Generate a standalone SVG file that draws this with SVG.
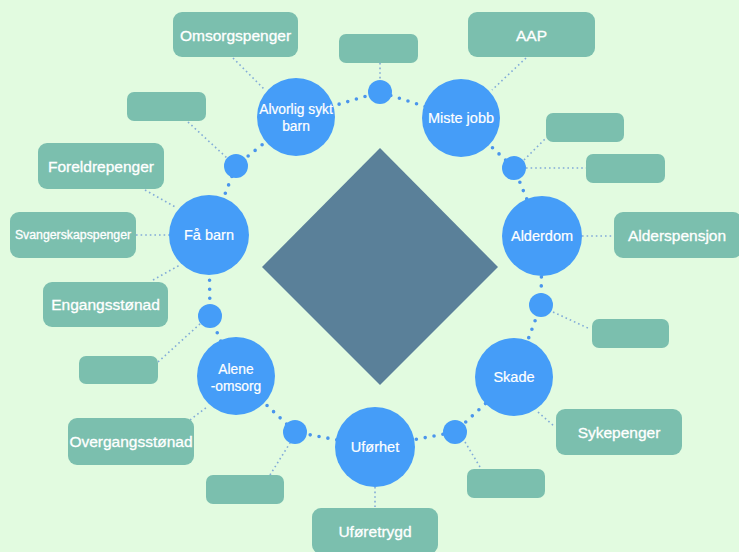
<svg xmlns="http://www.w3.org/2000/svg" width="739" height="552" viewBox="0 0 739 552">
<style>
.bg{fill:#E2FBE0}
.big{fill:#459DF8}
.small{fill:#459DF8}
.box{fill:#7BBFAE}
.ring{stroke:#4A95EC;stroke-width:3.6;stroke-linecap:round;stroke-dasharray:0 9;fill:none}
.link{stroke:#82ABD8;stroke-width:1.6;stroke-dasharray:1.6 3;fill:none}
.lbl{fill:#FFFFFF;stroke:#FFFFFF;stroke-width:0.3;font-family:"Liberation Sans",Arial,sans-serif;font-size:15.5px;text-anchor:middle;dominant-baseline:central}
.clbl{fill:#FFFFFF;stroke:#FFFFFF;stroke-width:0.2;font-family:"Liberation Sans",Arial,sans-serif;font-size:14.5px;text-anchor:middle;dominant-baseline:central}
.clbl2{font-size:13.8px}
</style>
<rect class="bg" x="0" y="0" width="739" height="552"/>
<g id="center">
<polygon points="380,148 498,267 380,385 262,267" fill="#5A8099"/>
</g>
<g id="connectors">
<polyline class="ring" points="296,117 380,92 461,118 514,168 542,236 541,305 514,377 455,432 375,447 295,432 236,376 210,316 209,235 236,166 296,117"/>
<line class="link" x1="233" y1="58" x2="265" y2="90"/>
<line class="link" x1="380" y1="63" x2="380" y2="82"/>
<line class="link" x1="188" y1="122" x2="227" y2="158"/>
<line class="link" x1="526" y1="58" x2="492" y2="90"/>
<line class="link" x1="524" y1="160" x2="547" y2="137"/>
<line class="link" x1="526" y1="168" x2="586" y2="168"/>
<line class="link" x1="582" y1="236" x2="614" y2="236"/>
<line class="link" x1="145" y1="190" x2="177" y2="208"/>
<line class="link" x1="136" y1="235" x2="169" y2="235"/>
<line class="link" x1="153" y1="280" x2="180" y2="265"/>
<line class="link" x1="158" y1="362" x2="201" y2="323"/>
<line class="link" x1="190" y1="420" x2="207" y2="407"/>
<line class="link" x1="270" y1="475" x2="290" y2="443"/>
<line class="link" x1="375" y1="487" x2="375" y2="508"/>
<line class="link" x1="465" y1="442" x2="480" y2="467"/>
<line class="link" x1="538" y1="412" x2="555" y2="427"/>
<line class="link" x1="553" y1="312" x2="590" y2="329"/>
</g>
<g id="n-alvorlig"><circle class="big" cx="296" cy="117" r="39"/><text class="clbl clbl2" x="296" y="109">Alvorlig sykt</text><text class="clbl clbl2" x="296" y="126">barn</text></g>
<g id="n-miste"><circle class="big" cx="461" cy="118" r="39"/><text class="clbl" x="461" y="118">Miste jobb</text></g>
<g id="n-alderdom"><circle class="big" cx="542" cy="236" r="40"/><text class="clbl" x="542" y="236">Alderdom</text></g>
<g id="n-skade"><circle class="big" cx="514" cy="377" r="39"/><text class="clbl" x="514" y="377">Skade</text></g>
<g id="n-uforhet"><circle class="big" cx="375" cy="447" r="40"/><text class="clbl" x="375" y="447">Uførhet</text></g>
<g id="n-alene"><circle class="big" cx="236" cy="376" r="39"/><text class="clbl clbl2" x="236" y="369">Alene</text><text class="clbl clbl2" x="236" y="386">-omsorg</text></g>
<g id="n-fabarn"><circle class="big" cx="209" cy="235" r="40"/><text class="clbl" x="209" y="235">Få barn</text></g>
<g id="s1"><circle class="small" cx="380" cy="92" r="12"/></g>
<g id="s2"><circle class="small" cx="514" cy="168" r="12"/></g>
<g id="s3"><circle class="small" cx="541" cy="305" r="12"/></g>
<g id="s4"><circle class="small" cx="455" cy="432" r="12"/></g>
<g id="s5"><circle class="small" cx="295" cy="432" r="12"/></g>
<g id="s6"><circle class="small" cx="210" cy="316" r="12"/></g>
<g id="s7"><circle class="small" cx="236" cy="166" r="12"/></g>
<g id="b-omsorgspenger"><rect class="box" x="173" y="12" width="125" height="45" rx="9"/><text class="lbl" x="235.5" y="35">Omsorgspenger</text></g>
<g id="b-top"><rect class="box" x="339" y="34" width="79" height="29" rx="7"/></g>
<g id="b-leftup"><rect class="box" x="127" y="92" width="79" height="29" rx="7"/></g>
<g id="b-aap"><rect class="box" x="468" y="12" width="127" height="45" rx="9"/><text class="lbl" x="531.5" y="35">AAP</text></g>
<g id="b-right1"><rect class="box" x="546" y="113" width="78" height="29" rx="7"/></g>
<g id="b-right2"><rect class="box" x="586" y="154" width="79" height="29" rx="7"/></g>
<g id="b-alderspensjon"><rect class="box" x="614" y="212" width="128" height="46" rx="9"/><text class="lbl" x="677" y="235">Alderspensjon</text></g>
<g id="b-foreldrepenger"><rect class="box" x="38" y="143" width="126" height="46" rx="9"/><text class="lbl" x="101" y="166">Foreldrepenger</text></g>
<g id="b-svangerskapspenger"><rect class="box" x="10" y="212" width="126" height="46" rx="9"/><text class="lbl" x="73" y="235" style="font-size:12.3px">Svangerskapspenger</text></g>
<g id="b-engangsstonad"><rect class="box" x="43" y="282" width="125" height="45" rx="9"/><text class="lbl" x="105.5" y="304.5">Engangsstønad</text></g>
<g id="b-leftlow"><rect class="box" x="79" y="356" width="79" height="28" rx="7"/></g>
<g id="b-overgangsstonad"><rect class="box" x="68" y="418" width="126" height="47" rx="9"/><text class="lbl" x="131" y="441.5">Overgangsstønad</text></g>
<g id="b-bottomleft"><rect class="box" x="206" y="475" width="78" height="29" rx="7"/></g>
<g id="b-uforetrygd"><rect class="box" x="312" y="508" width="126" height="46" rx="9"/><text class="lbl" x="375" y="531">Uføretrygd</text></g>
<g id="b-bottomright"><rect class="box" x="467" y="469" width="78" height="29" rx="7"/></g>
<g id="b-sykepenger"><rect class="box" x="556" y="409" width="126" height="46" rx="9"/><text class="lbl" x="619" y="432">Sykepenger</text></g>
<g id="b-rightlow"><rect class="box" x="592" y="319" width="77" height="29" rx="7"/></g>
</svg>
